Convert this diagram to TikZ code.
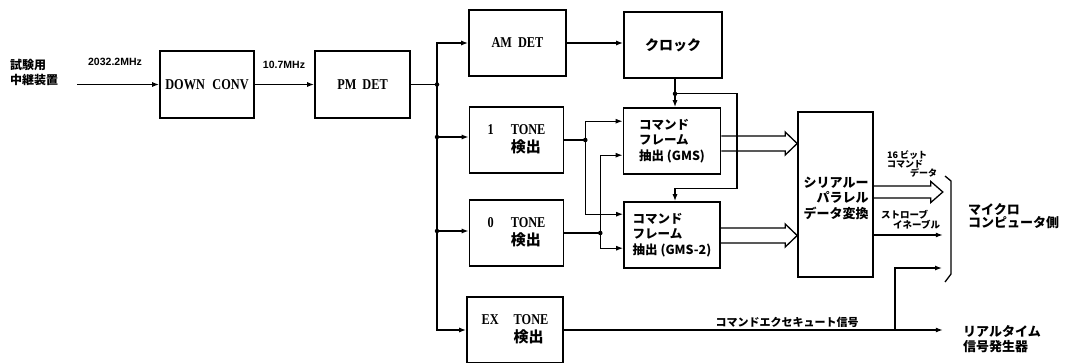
\documentclass[tikz,border=0pt]{standalone}
\usepackage{fontspec}
\setmainfont{Liberation Serif}
\newfontfamily\enf{Liberation Serif}[FakeStretch=0.82]
\newfontfamily\jp{Noto Sans CJK JP}
\newfontfamily\lab{Liberation Sans}
\usetikzlibrary{arrows.meta,calc}
\newcommand\enfont{\enf\bfseries\fontsize{15}{17}\selectfont}
\newcommand\jpf[2]{\jp\bfseries\fontsize{#1}{#2}\selectfont}
\newcommand\hol[5]{\draw[hollow] ($(#1)+(0,-#3)$) -- ($(#2)+(-#5,-#3)$) -- ($(#2)+(-#5,-#4)$) -- (#2) -- ($(#2)+(-#5,#4)$) -- ($(#2)+(-#5,#3)$) -- ($(#1)+(0,#3)$);}
\tikzset{
 box/.style={draw=black,line width=1.6pt,inner sep=0pt,align=center,font=\enfont},
 ln/.style={line width=1.3pt},
 arr/.style={ln,-{Latex[length=7pt,width=5pt]}},
 jdot/.style={circle,fill=black,inner sep=0pt,minimum size=4.5pt},
 hollow/.style={line width=1.3pt,line join=miter},
 txt/.style={inner sep=0pt},
}
\begin{document}
\begin{tikzpicture}[x=1pt,y=-1pt]
\useasboundingbox (0,0) rectangle (1067,362);
% boxes
\node[box,minimum width=94pt,minimum height=67pt] (down) at (207,84.5) {DOWN\hspace{0.5em}CONV};
\node[box,minimum width=95pt,minimum height=67pt] (pm) at (362.5,84.5) {PM\hspace{0.4em}DET};
\node[box,minimum width=97pt,minimum height=66pt] (am) at (517.5,43) {AM\hspace{0.4em}DET};
\node[box,minimum width=98pt,minimum height=66pt,font=\jpf{14}{16}] (clock) at (673,45) {クロック};
\node[box,minimum width=94pt,minimum height=66pt] (one) at (516.5,140) {\begin{tabular}{@{}l@{\hspace{17pt}}l@{}}1 & TONE\\ & {\jpf{15}{17}検出}\end{tabular}};
\node[box,minimum width=94pt,minimum height=66pt] (zero) at (516.5,233) {\begin{tabular}{@{}l@{\hspace{17pt}}l@{}}0 & TONE\\ & {\jpf{15}{17}検出}\end{tabular}};
\node[box,minimum width=96pt,minimum height=66pt] (ex) at (515,330) {\begin{tabular}{@{}l@{\hspace{15pt}}l@{}}EX & TONE\\ & {\jpf{15}{17}検出}\end{tabular}};
\node[box,minimum width=97pt,minimum height=66pt,align=left,font=\jpf{12.5}{15.5}] (cmd1) at (672,141) {コマンド\\フレーム\\抽出 (GMS)};
\node[box,minimum width=96pt,minimum height=66pt,align=left,font=\jpf{12.5}{15.5}] (cmd2) at (672,235) {コマンド\\フレーム\\抽出 (GMS-2)};
\node[box,minimum width=75pt,minimum height=165pt] (ser) at (835.5,194.5) {};
\node[txt,align=right,font=\jpf{13}{15.5}] (sert) at (836,198) {シリアルー\\パラレル\\データ変換};
% input
\coordinate (inp) at (77,84.5);
\draw[arr] (inp) -- (down.west);
\draw[arr] (down.east) -- (pm.west);
\node[txt,anchor=west,align=left,font=\jpf{12}{15}] (src) at (10,72) {試験用\\中継装置};
\node[txt,font=\lab\bfseries\fontsize{10.5}{12}\selectfont] (f1) at (115,62) {2032.2MHz};
\node[txt,font=\lab\bfseries\fontsize{10.5}{12}\selectfont] (f2) at (284,65) {10.7MHz};
% bus
\coordinate (jpm) at (437,84.5);
\coordinate (j1) at (437,137);
\coordinate (j2) at (437,231);
\draw[ln] (pm.east) -- (jpm);
\draw[arr] (jpm) |- (am.west);
\draw[arr] (jpm) |- (ex.west);
\draw[arr] (j1) -- (j1 -| one.west);
\draw[arr] (j2) -- (j2 -| zero.west);
\node[jdot] (d0) at (jpm) {};
\node[jdot] (d1) at (j1) {};
\node[jdot] (d2) at (j2) {};
% clock
\draw[arr] (am.east) -- (am.east -| clock.west);
\coordinate (ck) at ($(clock.south)+(2,0)$);
\coordinate (ckj) at ($(ck)+(0,15)$);
\coordinate (lr) at ($(ckj)+(62,0)$);
\coordinate (lb) at ($(ckj)+(62,95)$);
\coordinate (lb2) at ($(ckj)+(0,95)$);
\draw[arr] (ck) -- (ck |- cmd1.north);
\draw[arr] (ckj) -- (lr) -- (lb) -- (lb2) -- (lb2 |- cmd2.north);
\node[jdot] (d3) at (ckj) {};
% tone to command frame
\coordinate (c1a) at ($(cmd1.north west)+(0,14)$);
\coordinate (c1b) at ($(cmd1.north west)+(0,48)$);
\coordinate (c2a) at ($(cmd2.north west)+(0,13)$);
\coordinate (c2b) at ($(cmd2.north west)+(0,47)$);
\coordinate (k1) at ($(one.east)+(21,0)$);
\coordinate (k2) at ($(zero.east)+(36,0)$);
\draw[ln] (one.east) -- (k1);
\draw[arr] (k1) |- (c1a);
\draw[arr] (k1) |- (c2a);
\draw[ln] (zero.east) -- (k2);
\draw[arr] (k2) |- (c1b);
\draw[arr] (k2) |- (c2b);
\node[jdot] (d4) at (k1) {};
\node[jdot] (d5) at (k2) {};
% hollow arrows
\coordinate (h1s) at ($(cmd1.east)+(0,2.5)$);
\coordinate (h1e) at (ser.west |- h1s);
\hol{h1s}{h1e}{7.5}{11.5}{12}
\coordinate (h2s) at ($(cmd2.east)+(0,0.5)$);
\coordinate (h2e) at (ser.west |- h2s);
\hol{h2s}{h2e}{7.5}{11.5}{12}
\coordinate (h3s) at ($(ser.east)+(0,-2.5)$);
\coordinate (h3e) at ($(h3s)+(69,0)$);
\hol{h3s}{h3e}{6}{10.5}{12}
% strobe
\coordinate (st) at ($(ser.east)+(0,40.5)$);
\coordinate (ste) at (st -| h3e);
\draw[arr] (st) -- (ste);
% EX tone out
\coordinate (exe) at (ex.east -| h3e);
\coordinate (xj) at (895,330);
\coordinate (mce) at (942,268);
\draw[arr] (ex.east) -- (exe);
\draw[arr] (xj) |- (mce);
% bracket
\draw[ln] (945,176) -- (951,181) -- (951,274) -- (945,282);
% labels
\node[txt,anchor=west,font=\jpf{9}{9}] (l16) at (887,155) {16 ビット};
\node[txt,anchor=west,font=\jpf{9}{9}] (lcm) at (887,164) {コマンド};
\node[txt,anchor=west,font=\jpf{9}{9}] (ldt) at (910,173) {データ};
\node[txt,anchor=west,font=\jpf{9.5}{9.5}] (lst) at (881,215) {ストローブ};
\node[txt,anchor=west,font=\jpf{9.5}{9.5}] (len) at (893,225) {イネーブル};
\node[txt,font=\jpf{11}{11}] (lex) at (787,322) {コマンドエクセキュート信号};
\node[txt,anchor=west,align=left,font=\jpf{13}{13.5}] (lmc) at (968,216) {マイクロ\\コンピュータ側};
\node[txt,anchor=west,align=left,font=\jpf{13}{15}] (lrt) at (963,339) {リアルタイム\\信号発生器};
\end{tikzpicture}
\end{document}
